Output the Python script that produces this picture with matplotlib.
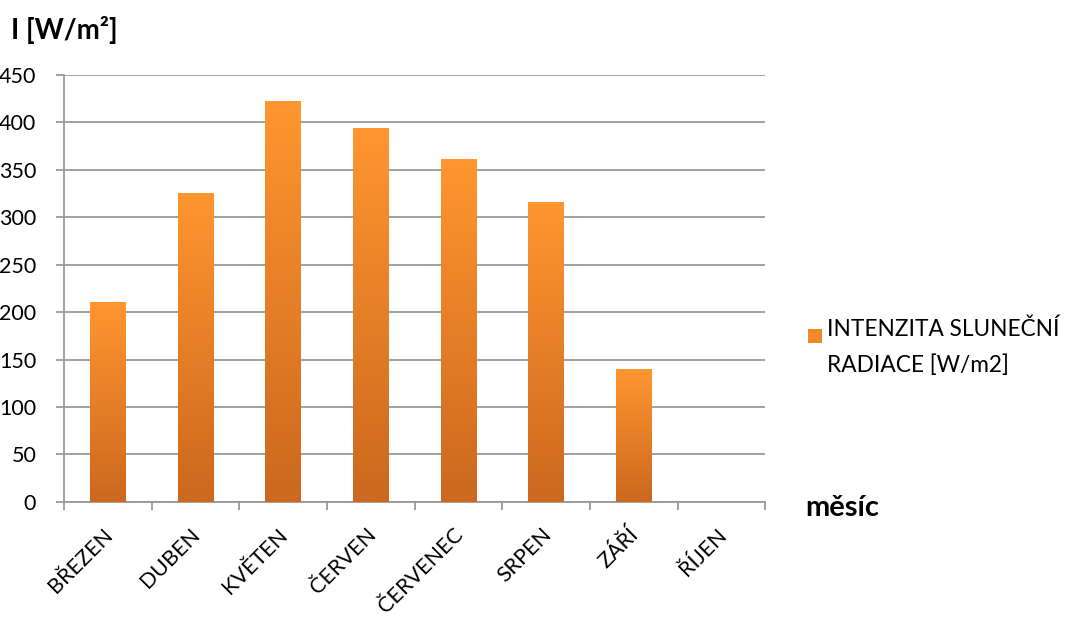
import numpy as np
import matplotlib.pyplot as plt
from matplotlib.colors import LinearSegmentedColormap
from matplotlib.patches import Rectangle

mesice = ['BŘEZEN', 'DUBEN', 'KVĚTEN', 'ČERVEN', 'ČERVENEC', 'SRPEN', 'ZÁŘÍ', 'ŘÍJEN']
intenzita = [210, 325, 422, 394, 361, 316, 140, 0]
y_ticks = [0, 50, 100, 150, 200, 250, 300, 350, 400, 450]

plt.rcParams['font.family'] = ['Lato', 'DejaVu Sans']

fig = plt.figure(figsize=(10.66, 6.25), dpi=100)
ax = fig.add_axes([0.060, 0.197, 0.658, 0.683])

grad = LinearSegmentedColormap.from_list('oranz', ['#cc681f', '#ff962f'])
sirka = 0.41
x = np.arange(len(mesice))
bars = ax.bar(x, intenzita, width=sirka, color='none', zorder=3)
g = np.linspace(0, 1, 256).reshape(-1, 1)
for b in bars:
    h = b.get_height()
    if h <= 0:
        continue
    ax.imshow(g, cmap=grad, aspect='auto', origin='lower', zorder=3,
              extent=(b.get_x(), b.get_x() + b.get_width(), 0, h))

ax.set_xlim(-0.5, len(mesice) - 0.5)
ax.set_ylim(0, 450)
ax.set_yticks(y_ticks)
ax.yaxis.grid(True, color='#9a9a9a', linewidth=1.3)
ax.set_axisbelow(True)

for s in ['top', 'right']:
    ax.spines[s].set_visible(False)
for s in ['left', 'bottom']:
    ax.spines[s].set_color('#9a9a9a')
    ax.spines[s].set_linewidth(1.3)

ax.set_xticks(np.arange(len(mesice) + 1) - 0.5)
ax.set_xticklabels([])
ax.tick_params(axis='x', length=6, color='#9a9a9a', width=1.3)
ax.tick_params(axis='y', length=6, color='#9a9a9a', width=1.3, labelsize=15.5, pad=14)
for i, m in enumerate(mesice):
    ax.text(i - 0.06, -24, m, rotation=45, ha='right', va='top',
            rotation_mode='anchor', fontsize=15.5)

fig.text(0.010, 0.952, 'I [W/m²]', fontsize=20, fontweight='bold', va='center')
fig.text(0.755, 0.187, 'měsíc', fontsize=21, fontweight='bold', va='center')

fig.patches.append(Rectangle((0.758, 0.451), 0.0135, 0.022, transform=fig.transFigure,
                             facecolor='#f28a2c', edgecolor='none'))
fig.text(0.776, 0.490, 'INTENZITA SLUNEČNÍ\nRADIACE [W/m2]', fontsize=16.3,
         va='top', linespacing=1.8)

fig.savefig('out.png', dpi=100)
